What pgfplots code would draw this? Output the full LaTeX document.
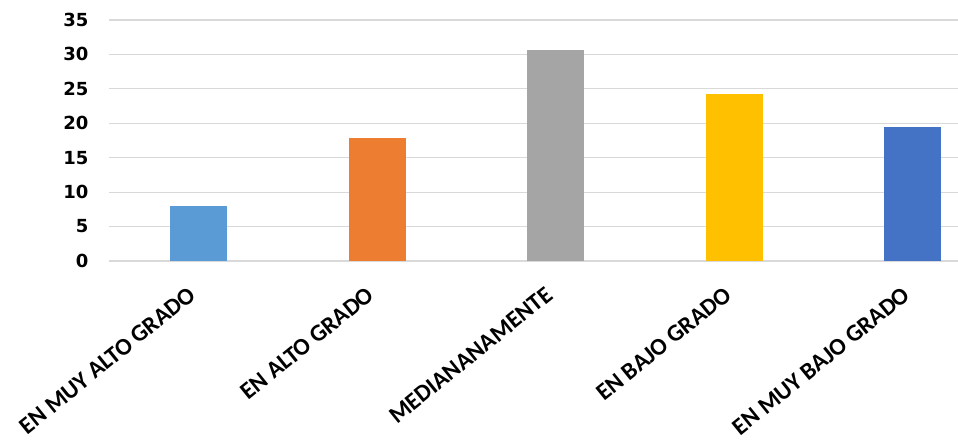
\documentclass[border=0pt]{standalone}
\usepackage{fontspec}
\setmainfont{Carlito}
\newfontfamily\tickfont{DejaVu Sans}
\usepackage{pgfplots}
\pgfplotsset{compat=1.18}
\definecolor{c1}{HTML}{5B9BD5}
\definecolor{c2}{HTML}{ED7D31}
\definecolor{c3}{HTML}{A5A5A5}
\definecolor{c4}{HTML}{FFC000}
\definecolor{c5}{HTML}{4472C4}
\definecolor{gridc}{HTML}{D9D9D9}
\begin{document}
\begin{tikzpicture}
\begin{axis}[name=ax,
  scale only axis, width=636.6pt, height=180.75pt,
  xmin=-0.5, xmax=4.253, ymin=0, ymax=35,
  ytick={0,5,...,35},
  ymajorgrids, grid style={draw=gridc, line width=0.9pt},
  axis line style={draw=none},
  major tick length=0pt,
  xtick={0,1,2,3,4},
  xticklabels={EN MUY ALTO GRADO, EN ALTO GRADO, MEDIANANAMENTE, EN BAJO GRADO, EN MUY BAJO GRADO},
  xticklabel style={font=\bfseries\fontsize{18}{20}\selectfont, xshift=-8pt, yshift=-13.5pt, rotate=39, anchor=north east},
  /pgf/number format/assume math mode=true,
  yticklabel style={font=\tickfont\bfseries\fontsize{13.5}{15}\selectfont, xshift=-12pt},
  clip=false,
]
\addplot[ybar, bar shift=0pt, bar width=42.75pt, fill=c1, draw=none] coordinates {(0,8.0)};
\addplot[ybar, bar shift=0pt, bar width=42.75pt, fill=c2, draw=none] coordinates {(1,17.8)};
\addplot[ybar, bar shift=0pt, bar width=42.75pt, fill=c3, draw=none] coordinates {(2,30.7)};
\addplot[ybar, bar shift=0pt, bar width=42.75pt, fill=c4, draw=none] coordinates {(3,24.2)};
\addplot[ybar, bar shift=0pt, bar width=42.75pt, fill=c5, draw=none] coordinates {(4,19.4)};
\end{axis}
\pgfresetboundingbox
\path ([xshift=-81.9pt, yshift=-134.25pt]ax.south west) rectangle ([yshift=15pt]ax.north east);
\end{tikzpicture}
\end{document}
